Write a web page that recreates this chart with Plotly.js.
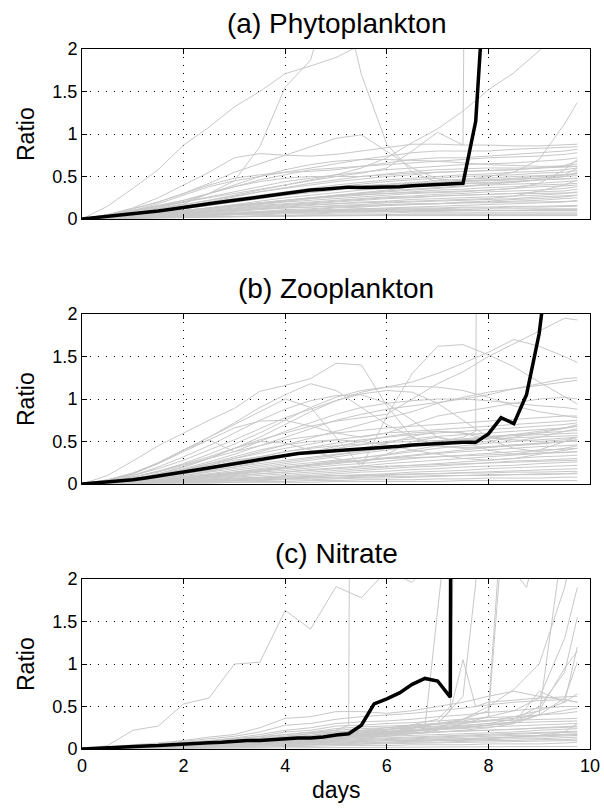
<!DOCTYPE html>
<html><head><meta charset="utf-8">
<script src="https://cdn.plot.ly/plotly-3.0.1.min.js"></script>
<style>html,body{margin:0;padding:0;background:#fff}</style>
</head><body><div id="chart" style="width:604px;height:809px"></div>
<script>
// ---------- data ----------
const X_FINE = [0,0.25,0.5,0.75,1,1.25,1.5,1.75,2,2.25,2.5,2.75,3,3.25,3.5,3.75,4,4.25,4.5,4.75,5,5.25,5.5,5.75,6,6.25,6.5,6.75,7,7.25,7.5,7.75,8,8.25,8.5,8.75,9,9.25];
const X_GRAY = [0,0.5,1,1.5,2,2.5,3,3.5,4,4.5,5,5.5,6,6.5,7,7.5,8,8.5,9,9.5,9.75];

const PHYTO_BLACK = [0,0.015,0.03,0.045,0.065,0.08,0.095,0.115,0.14,0.16,0.18,0.2,0.22,0.24,0.26,0.285,0.31,0.325,0.34,0.35,0.36,0.375,0.37,0.37,0.375,0.38,0.39,0.395,0.405,0.41,0.42,1.15,3.5];
const ZOO_BLACK = [0,0.01,0.02,0.035,0.05,0.07,0.09,0.115,0.14,0.165,0.19,0.215,0.24,0.265,0.29,0.315,0.34,0.36,0.37,0.38,0.39,0.4,0.405,0.415,0.43,0.445,0.46,0.47,0.48,0.485,0.49,0.49,0.59,0.78,0.71,1.05,1.77,3.0];
const NITRATE_BLACK = [0,0.005,0.01,0.02,0.03,0.035,0.04,0.05,0.065,0.07,0.075,0.08,0.095,0.1,0.1,0.11,0.125,0.13,0.13,0.14,0.165,0.18,0.28,0.53,0.59,0.66,0.76,0.83,0.8,0.61,60];

const PHYTO_GRAY = [
 [0,0.15,0.36,0.58,0.87,1.08,1.32,1.5,1.71,1.8,1.9,2.05,2.3,2.5,2.7,2.9,3.1,3.3,3.5,3.7,3.8],
 [0,0.04,0.08,0.12,0.18,0.3,0.45,0.85,1.55,1.87,2.95,1.7,0.88,0.55,0.43,0.42,0.42,0.44,0.46,0.47,0.48],
 [0,0.03,0.07,0.12,0.17,0.22,0.28,0.34,0.4,0.45,0.5,0.54,0.6,0.8,1.02,0.87,40,40,40,40,40],
 [0,0.05,0.1,0.15,0.2,0.25,0.3,0.35,0.4,0.46,0.52,0.6,0.72,0.9,1.06,1.27,1.52,1.72,1.98,2.3,2.45],
 [0,0.02,0.05,0.08,0.1,0.13,0.16,0.19,0.22,0.25,0.28,0.31,0.34,0.38,0.42,0.46,0.5,0.55,0.7,1.12,1.37],
 [0,0.05,0.12,0.2,0.3,0.42,0.55,0.65,0.75,0.85,0.95,0.99,0.8,0.6,0.47,0.45,0.46,0.48,0.5,0.52,0.53],
 [0,0.05,0.13,0.25,0.4,0.55,0.72,0.77,0.75,0.74,0.76,0.8,0.84,0.88,0.88,0.87,0.87,0.86,0.86,0.87,0.88],
 [0,0.04,0.1,0.18,0.28,0.38,0.45,0.5,0.55,0.6,0.65,0.7,0.74,0.78,0.8,0.8,0.8,0.82,0.83,0.84,0.85],
 [0,0.05,0.12,0.2,0.3,0.4,0.48,0.52,0.55,0.56,0.58,0.62,0.66,0.7,0.72,0.72,0.74,0.76,0.78,0.8,0.82],
 [0,0.04,0.09,0.15,0.22,0.3,0.38,0.46,0.52,0.58,0.6,0.62,0.64,0.66,0.68,0.7,0.72,0.73,0.74,0.76,0.78],
 [0,0.03,0.08,0.14,0.2,0.26,0.32,0.38,0.44,0.48,0.52,0.55,0.58,0.6,0.62,0.64,0.65,0.66,0.68,0.7,0.72],
 [0,0.03,0.07,0.12,0.17,0.22,0.27,0.32,0.36,0.4,0.44,0.47,0.5,0.52,0.55,0.56,0.57,0.58,0.6,0.62,0.65],
 [0,0.04,0.1,0.16,0.22,0.3,0.38,0.44,0.48,0.5,0.5,0.5,0.52,0.54,0.55,0.56,0.57,0.58,0.6,0.63,0.68],
 [0,0.03,0.06,0.1,0.15,0.2,0.24,0.28,0.32,0.36,0.4,0.43,0.46,0.48,0.5,0.52,0.53,0.55,0.56,0.58,0.6],
 [0,0.03,0.06,0.1,0.14,0.18,0.22,0.26,0.3,0.34,0.38,0.41,0.44,0.46,0.48,0.5,0.51,0.52,0.54,0.55,0.57],
 [0,0.02,0.05,0.09,0.13,0.17,0.21,0.25,0.29,0.33,0.36,0.39,0.41,0.43,0.45,0.47,0.48,0.5,0.51,0.52,0.54],
 [0,0.02,0.05,0.08,0.12,0.16,0.2,0.24,0.28,0.31,0.34,0.37,0.39,0.41,0.43,0.45,0.46,0.47,0.48,0.5,0.51],
 [0,0.02,0.04,0.07,0.1,0.13,0.17,0.21,0.25,0.28,0.31,0.34,0.36,0.38,0.4,0.42,0.43,0.44,0.46,0.47,0.48],
 [0,0.02,0.04,0.07,0.1,0.13,0.16,0.19,0.22,0.25,0.28,0.3,0.32,0.34,0.36,0.38,0.4,0.41,0.42,0.44,0.45],
 [0,0.02,0.04,0.06,0.09,0.12,0.15,0.18,0.21,0.24,0.26,0.28,0.3,0.32,0.34,0.35,0.37,0.38,0.4,0.41,0.42],
 [0,0.02,0.04,0.06,0.08,0.11,0.14,0.17,0.2,0.22,0.24,0.26,0.28,0.3,0.31,0.32,0.34,0.36,0.38,0.39,0.4],
 [0,0.01,0.03,0.05,0.08,0.1,0.13,0.16,0.18,0.2,0.22,0.24,0.26,0.27,0.29,0.3,0.32,0.33,0.34,0.36,0.38],
 [0,0.01,0.03,0.05,0.07,0.09,0.12,0.14,0.16,0.18,0.2,0.22,0.24,0.25,0.27,0.28,0.29,0.3,0.32,0.33,0.35],
 [0,0.01,0.03,0.04,0.06,0.08,0.1,0.12,0.14,0.16,0.18,0.2,0.21,0.23,0.24,0.25,0.26,0.27,0.28,0.3,0.32],
 [0,0.01,0.02,0.04,0.06,0.07,0.09,0.11,0.13,0.14,0.16,0.17,0.19,0.2,0.21,0.22,0.23,0.24,0.26,0.27,0.28],
 [0,0.01,0.02,0.03,0.05,0.06,0.08,0.09,0.11,0.12,0.14,0.15,0.16,0.17,0.18,0.19,0.2,0.21,0.22,0.24,0.25],
 [0,0.01,0.02,0.03,0.04,0.05,0.06,0.08,0.09,0.1,0.11,0.12,0.13,0.14,0.15,0.16,0.17,0.18,0.19,0.2,0.22],
 [0,0.01,0.02,0.03,0.04,0.05,0.06,0.07,0.08,0.09,0.1,0.11,0.11,0.12,0.12,0.13,0.13,0.14,0.14,0.15,0.15],
 [0,0.01,0.02,0.03,0.04,0.05,0.06,0.07,0.08,0.09,0.1,0.1,0.1,0.11,0.11,0.11,0.12,0.12,0.12,0.12,0.12],
 [0,0.01,0.02,0.03,0.04,0.05,0.06,0.07,0.08,0.08,0.09,0.09,0.09,0.1,0.1,0.1,0.1,0.1,0.1,0.1,0.1],
 [0,0.01,0.02,0.02,0.03,0.04,0.05,0.05,0.06,0.06,0.07,0.07,0.07,0.08,0.08,0.08,0.08,0.08,0.08,0.08,0.08],
 [0,0.01,0.01,0.02,0.02,0.03,0.03,0.04,0.04,0.05,0.05,0.05,0.05,0.06,0.06,0.06,0.06,0.06,0.06,0.06,0.06],
 [0,0.005,0.01,0.015,0.02,0.025,0.03,0.03,0.035,0.035,0.04,0.04,0.04,0.04,0.04,0.04,0.04,0.04,0.04,0.04,0.04],
 [0,0.02,0.04,0.07,0.1,0.13,0.16,0.19,0.22,0.25,0.27,0.29,0.3,0.31,0.32,0.33,0.34,0.36,0.42,0.58,0.7],
 [0,0.01,0.03,0.05,0.07,0.09,0.11,0.13,0.15,0.17,0.18,0.19,0.2,0.21,0.22,0.23,0.24,0.27,0.33,0.4,0.46],
 [0,0.01,0.02,0.03,0.05,0.06,0.07,0.08,0.09,0.1,0.11,0.12,0.12,0.13,0.13,0.14,0.14,0.15,0.15,0.16,0.16],
 [0,0.01,0.02,0.04,0.06,0.08,0.1,0.12,0.13,0.14,0.15,0.16,0.17,0.18,0.18,0.19,0.19,0.2,0.2,0.21,0.21],
 [0,0.01,0.03,0.05,0.07,0.1,0.12,0.15,0.17,0.19,0.21,0.23,0.25,0.26,0.27,0.28,0.29,0.3,0.3,0.31,0.31],
 [0,0.02,0.04,0.06,0.09,0.12,0.15,0.18,0.21,0.24,0.27,0.3,0.33,0.35,0.37,0.39,0.41,0.43,0.46,0.5,0.55],
 [0,0.02,0.05,0.08,0.12,0.16,0.2,0.24,0.28,0.32,0.35,0.38,0.4,0.42,0.43,0.44,0.45,0.46,0.48,0.52,0.6],
 [0,0.005,0.01,0.02,0.03,0.04,0.05,0.06,0.07,0.07,0.08,0.08,0.09,0.09,0.09,0.1,0.1,0.1,0.11,0.11,0.11],
 [0,0.005,0.01,0.01,0.02,0.02,0.03,0.03,0.03,0.04,0.04,0.04,0.05,0.05,0.05,0.05,0.05,0.05,0.05,0.05,0.05],
 [0,0.01,0.02,0.03,0.04,0.05,0.07,0.08,0.1,0.11,0.13,0.14,0.16,0.17,0.18,0.2,0.21,0.23,0.24,0.26,0.28],
 [0,0.02,0.05,0.09,0.14,0.2,0.26,0.32,0.37,0.42,0.46,0.5,0.53,0.56,0.58,0.59,0.6,0.6,0.6,0.61,0.62],
 [0,0.03,0.07,0.13,0.2,0.3,0.4,0.5,0.58,0.64,0.68,0.7,0.7,0.69,0.68,0.66,0.64,0.63,0.62,0.62,0.62]
];

const ZOO_GRAY = [
 [0,0.1,0.27,0.45,0.6,0.75,0.89,1.09,1.16,1.24,1.42,1.4,0.92,0.55,0.45,0.43,0.44,0.46,0.48,0.5,0.52],
 [0,0.05,0.12,0.25,0.4,0.55,0.7,0.85,1.0,0.9,0.55,0.2,0.8,1.3,1.62,1.64,1.52,1.38,1.2,1.02,0.94],
 [0,0.03,0.08,0.15,0.23,0.32,0.42,0.52,0.6,0.68,0.74,0.78,0.82,1.0,1.18,1.32,1.5,1.65,1.8,1.95,1.93],
 [0,0.04,0.1,0.18,0.28,0.4,0.52,0.65,0.78,0.88,0.98,1.08,1.14,1.2,1.3,1.42,1.55,1.7,1.62,1.5,1.43],
 [0,0.03,0.08,0.15,0.24,0.35,0.47,0.6,0.75,0.9,1.02,1.1,1.14,1.15,1.14,1.1,1.02,0.92,0.85,0.8,0.78],
 [0,0.02,0.06,0.12,0.2,0.3,0.42,0.55,0.7,0.85,0.98,1.06,1.1,1.08,0.95,0.75,0.55,0.5,0.55,0.62,0.65],
 [0,0.04,0.1,0.2,0.32,0.45,0.6,0.75,0.88,0.98,1.04,1.05,0.95,0.75,0.55,0.48,0.5,0.55,0.6,0.65,0.68],
 [0,0.02,0.06,0.11,0.18,0.26,0.35,0.45,0.55,0.65,0.75,0.82,0.88,0.92,0.96,1.0,1.05,1.12,1.18,1.24,1.25],
 [0,0.02,0.05,0.1,0.16,0.22,0.3,0.38,0.46,0.54,0.62,0.7,0.78,0.85,0.95,1.02,1.08,1.12,1.16,1.2,1.22],
 [0,0.04,0.12,0.24,0.38,0.52,0.66,0.74,0.75,0.68,0.6,0.55,0.6,0.7,0.8,0.85,0.9,0.95,1.0,1.02,1.0],
 [0,0.05,0.13,0.25,0.4,0.55,0.72,0.9,1.05,1.18,1.1,0.9,0.7,0.55,0.45,0.42,0.43,0.45,0.47,0.5,0.52],
 [0,0.04,0.12,0.24,0.4,0.52,0.38,0.5,0.62,0.72,0.82,0.9,0.95,0.98,1.0,1.0,0.98,0.95,0.92,0.9,0.88],
 [0,0.03,0.08,0.14,0.22,0.3,0.38,0.45,0.52,0.56,0.6,0.63,0.66,0.68,0.7,0.72,0.74,0.76,0.78,0.8,0.8],
 [0,0.02,0.06,0.11,0.17,0.24,0.3,0.36,0.42,0.47,0.52,0.56,0.6,0.62,0.64,0.66,0.68,0.7,0.72,0.74,0.75],
 [0,0.02,0.05,0.09,0.14,0.2,0.26,0.32,0.38,0.43,0.48,0.52,0.55,0.58,0.6,0.62,0.64,0.66,0.68,0.7,0.72],
 [0,0.02,0.05,0.08,0.12,0.17,0.22,0.27,0.32,0.37,0.42,0.46,0.5,0.53,0.56,0.58,0.6,0.62,0.64,0.66,0.68],
 [0,0.02,0.04,0.07,0.1,0.14,0.18,0.22,0.26,0.3,0.34,0.38,0.42,0.46,0.5,0.53,0.56,0.58,0.6,0.62,0.63],
 [0,0.01,0.03,0.06,0.09,0.12,0.16,0.2,0.24,0.28,0.32,0.36,0.4,0.44,0.48,0.52,0.55,0.57,0.58,0.59,0.6],
 [0,0.01,0.03,0.05,0.08,0.11,0.14,0.18,0.22,0.25,0.28,0.31,0.34,0.38,0.42,0.45,0.48,0.5,0.52,0.54,0.55],
 [0,0.01,0.03,0.05,0.07,0.1,0.13,0.16,0.19,0.22,0.25,0.28,0.31,0.34,0.37,0.4,0.43,0.46,0.48,0.5,0.5],
 [0,0.01,0.02,0.04,0.06,0.09,0.12,0.15,0.18,0.21,0.24,0.27,0.3,0.33,0.36,0.38,0.4,0.42,0.44,0.45,0.46],
 [0,0.01,0.02,0.04,0.06,0.08,0.11,0.14,0.16,0.19,0.22,0.24,0.27,0.3,0.32,0.34,0.36,0.38,0.4,0.41,0.42],
 [0,0.01,0.02,0.03,0.05,0.07,0.09,0.12,0.14,0.17,0.19,0.21,0.24,0.26,0.28,0.3,0.32,0.34,0.36,0.37,0.38],
 [0,0.01,0.02,0.03,0.05,0.06,0.08,0.1,0.12,0.14,0.16,0.18,0.2,0.22,0.24,0.26,0.28,0.3,0.32,0.33,0.34],
 [0,0.01,0.02,0.03,0.04,0.05,0.07,0.08,0.1,0.12,0.14,0.16,0.18,0.2,0.21,0.23,0.25,0.27,0.28,0.29,0.3],
 [0,0.01,0.02,0.03,0.04,0.05,0.06,0.07,0.09,0.1,0.12,0.14,0.15,0.17,0.18,0.2,0.21,0.22,0.24,0.25,0.26],
 [0,0.01,0.01,0.02,0.03,0.04,0.05,0.06,0.07,0.08,0.1,0.11,0.12,0.14,0.15,0.16,0.18,0.19,0.2,0.21,0.22],
 [0,0.01,0.01,0.02,0.03,0.03,0.04,0.05,0.06,0.07,0.08,0.09,0.1,0.11,0.12,0.13,0.14,0.15,0.16,0.17,0.18],
 [0,0.005,0.01,0.015,0.02,0.03,0.03,0.04,0.05,0.05,0.06,0.07,0.07,0.08,0.09,0.1,0.1,0.11,0.12,0.12,0.13],
 [0,0.005,0.01,0.01,0.02,0.02,0.02,0.03,0.03,0.04,0.04,0.05,0.05,0.05,0.06,0.06,0.07,0.07,0.07,0.08,0.08],
 [0,0.005,0.005,0.01,0.01,0.01,0.02,0.02,0.02,0.02,0.03,0.03,0.03,0.03,0.03,0.04,0.04,0.04,0.04,0.04,0.04],
 [0,0.02,0.06,0.12,0.2,0.3,0.42,0.5,0.48,0.4,0.3,0.25,0.35,0.5,0.55,0.5,0.4,0.35,0.4,0.5,0.55],
 [0,0.02,0.05,0.1,0.16,0.22,0.28,0.32,0.34,0.35,0.38,0.42,0.48,0.56,0.62,0.6,0.52,0.42,0.38,0.42,0.45],
 [0,0.01,0.02,0.03,0.04,0.05,0.06,0.07,0.08,0.09,0.1,0.1,0.11,0.12,0.12,0.13,0.13,0.14,0.14,0.15,0.15],
 [0,0.01,0.02,0.04,0.06,0.08,0.1,0.12,0.14,0.16,0.18,0.2,0.21,0.22,0.23,0.24,0.25,0.26,0.27,0.28,0.28],
 [0,0.01,0.03,0.05,0.08,0.11,0.14,0.17,0.2,0.23,0.26,0.28,0.3,0.31,0.32,0.33,0.34,0.35,0.36,0.37,0.38],
 [0,0.02,0.05,0.09,0.14,0.2,0.26,0.32,0.38,0.42,0.45,0.47,0.49,0.5,0.51,0.52,0.53,0.54,0.55,0.56,0.57],
 [0,0.005,0.01,0.015,0.02,0.03,0.04,0.05,0.06,0.07,0.07,0.08,0.09,0.09,0.1,0.1,0.11,0.11,0.11,0.12,0.12],
 [0,0.01,0.03,0.06,0.1,0.15,0.2,0.26,0.32,0.38,0.44,0.5,0.56,0.6,0.62,0.6,0.56,0.52,0.5,0.52,0.55],
 [0,0.02,0.05,0.1,0.16,0.24,0.32,0.4,0.46,0.5,0.52,0.5,0.46,0.4,0.35,0.3,0.28,0.3,0.35,0.4,0.42],
 [0,0.01,0.02,0.04,0.06,0.09,0.12,0.15,0.19,0.23,0.27,0.31,0.35,0.4,0.45,0.5,0.55,0.58,0.62,0.66,0.7]
];
const ZOO_SPIKE_X = [0,1,2,3,4,5,6,7,7.5,7.75,8];
const ZOO_SPIKE_Y = [0,0.04,0.12,0.2,0.28,0.35,0.42,0.5,0.55,0.62,40];

const NITRATE_GRAY = [
 [0,0.04,0.22,0.27,0.53,0.6,1.0,1.02,1.63,1.41,1.91,1.78,2.1,1.96,2.3,2.5,2.6,2.8,2.9,3.0,3.0],
 [0,0.02,0.05,0.07,0.1,0.14,0.17,0.25,0.36,0.38,0.44,0.44,0.42,0.45,0.5,0.55,0.62,0.68,0.62,0.58,0.55],
 [0,0.02,0.04,0.06,0.09,0.12,0.15,0.2,0.28,0.3,0.35,0.38,0.4,0.42,0.45,0.48,0.52,0.55,0.57,0.58,0.55],
 [0,0.01,0.03,0.05,0.08,0.1,0.13,0.17,0.22,0.25,0.3,0.32,0.33,0.35,0.38,0.4,0.43,0.45,0.48,0.5,0.5],
 [0,0.01,0.03,0.05,0.07,0.09,0.12,0.15,0.2,0.22,0.27,0.28,0.3,0.31,0.33,0.35,0.37,0.38,0.4,0.42,0.44],
 [0,0.01,0.02,0.04,0.06,0.08,0.1,0.13,0.17,0.2,0.24,0.26,0.27,0.28,0.3,0.32,0.33,0.34,0.35,0.36,0.36],
 [0,0.01,0.02,0.04,0.05,0.07,0.09,0.11,0.14,0.16,0.2,0.22,0.23,0.25,0.26,0.28,0.3,0.31,0.32,0.33,0.33],
 [0,0.01,0.02,0.03,0.05,0.06,0.08,0.1,0.12,0.14,0.17,0.19,0.2,0.21,0.23,0.24,0.26,0.27,0.28,0.29,0.3],
 [0,0.01,0.02,0.03,0.04,0.05,0.07,0.08,0.1,0.12,0.14,0.16,0.17,0.18,0.2,0.21,0.22,0.23,0.25,0.26,0.27],
 [0,0.01,0.02,0.03,0.04,0.05,0.06,0.07,0.09,0.1,0.12,0.14,0.15,0.16,0.17,0.18,0.19,0.2,0.22,0.23,0.24],
 [0,0.005,0.01,0.02,0.03,0.04,0.05,0.06,0.07,0.08,0.1,0.11,0.12,0.13,0.14,0.15,0.16,0.17,0.18,0.19,0.2],
 [0,0.005,0.01,0.02,0.03,0.04,0.05,0.06,0.07,0.08,0.09,0.1,0.11,0.12,0.13,0.14,0.15,0.16,0.16,0.17,0.18],
 [0,0.005,0.01,0.02,0.03,0.03,0.04,0.05,0.06,0.07,0.08,0.09,0.1,0.1,0.11,0.12,0.13,0.14,0.14,0.15,0.16],
 [0,0.005,0.01,0.015,0.02,0.03,0.04,0.04,0.05,0.06,0.07,0.08,0.08,0.09,0.1,0.1,0.11,0.12,0.12,0.13,0.14],
 [0,0.005,0.01,0.015,0.02,0.02,0.03,0.04,0.04,0.05,0.06,0.06,0.07,0.08,0.08,0.09,0.1,0.1,0.11,0.11,0.12],
 [0,0.005,0.01,0.01,0.02,0.02,0.03,0.03,0.04,0.04,0.05,0.05,0.06,0.06,0.07,0.07,0.08,0.08,0.09,0.09,0.1],
 [0,0.005,0.005,0.01,0.01,0.02,0.02,0.02,0.03,0.03,0.04,0.04,0.04,0.05,0.05,0.05,0.06,0.06,0.06,0.07,0.08],
 [0,0.002,0.005,0.007,0.01,0.01,0.01,0.015,0.015,0.02,0.02,0.02,0.02,0.025,0.025,0.025,0.03,0.03,0.03,0.03,0.03],
 [0,0.01,0.02,0.04,0.06,0.08,0.1,0.12,0.15,0.18,0.2,0.22,0.25,0.28,0.3,0.33,0.38,0.45,0.6,1.3,1.9],
 [0,0.01,0.02,0.03,0.05,0.07,0.09,0.11,0.13,0.15,0.17,0.19,0.21,0.23,0.25,0.27,0.3,0.35,0.5,0.9,1.55],
 [0,0.01,0.02,0.03,0.04,0.06,0.08,0.1,0.12,0.14,0.16,0.18,0.2,0.22,0.24,0.26,0.28,0.3,0.68,0.55,1.2],
 [0,0.01,0.02,0.03,0.04,0.05,0.07,0.09,0.11,0.13,0.15,0.17,0.19,0.21,0.23,0.25,0.28,0.32,0.45,0.95,1.15],
 [0,0.01,0.015,0.02,0.03,0.04,0.05,0.06,0.08,0.1,0.12,0.14,0.16,0.18,0.2,0.22,0.25,0.3,0.4,0.6,1.02],
 [0,0.01,0.02,0.03,0.04,0.05,0.07,0.09,0.11,0.13,0.15,0.17,0.19,0.21,0.23,0.25,0.28,0.32,0.4,2.6,3.2],
 [0,0.01,0.02,0.03,0.05,0.07,0.09,0.11,0.13,0.15,0.17,0.2,0.23,0.26,0.3,0.35,0.5,0.7,1.0,1.9,2.6],
 [0,0.005,0.01,0.02,0.03,0.04,0.05,0.06,0.08,0.09,0.11,0.12,0.13,0.14,0.15,0.16,0.17,0.18,0.19,0.2,0.21],
 [0,0.005,0.01,0.02,0.03,0.05,0.06,0.08,0.1,0.12,0.14,0.16,0.18,0.19,0.2,0.21,0.22,0.23,0.24,0.25,0.26],
 [0,0.01,0.02,0.03,0.05,0.07,0.09,0.12,0.15,0.18,0.22,0.24,0.25,0.27,0.29,0.31,0.34,0.36,0.4,0.45,0.48],
 [0,0.005,0.01,0.015,0.02,0.03,0.04,0.05,0.06,0.07,0.08,0.09,0.1,0.11,0.12,0.12,0.13,0.14,0.15,0.16,0.17],
 [0,0.005,0.01,0.01,0.02,0.02,0.03,0.03,0.04,0.05,0.06,0.07,0.08,0.09,0.1,0.11,0.12,0.14,0.16,0.2,0.3],
 [0,0.01,0.02,0.03,0.04,0.06,0.08,0.1,0.13,0.16,0.19,0.21,0.23,0.25,0.27,0.3,0.33,0.38,0.45,0.55,0.65]
];
const NIT_SPIKE1_X = [0,1,2,3,4,5,5.25,5.5];
const NIT_SPIKE1_Y = [0,0.02,0.06,0.12,0.17,0.22,0.28,40];
const NIT_SPIKE2_X = [0,1,2,3,4,5,6,6.5,6.75,7.25];
const NIT_SPIKE2_Y = [0,0.02,0.05,0.09,0.12,0.15,0.18,0.2,0.25,3.0];
const NIT_SPIKE3_X = [0,1,2,3,4,5,6,7,7.25,7.5];
const NIT_SPIKE3_Y = [0,0.02,0.05,0.08,0.12,0.16,0.22,0.35,0.5,8];
const NIT_SPIKE4_X = [0,1,2,3,4,5,6,7,7.25,7.5,7.75,8,9,9.75];
const NIT_SPIKE4_Y = [0,0.02,0.04,0.07,0.1,0.14,0.2,0.3,0.45,1.05,0.5,0.55,0.6,0.62];
const NIT_SPIKE5_X = [0,1,2,3,4,5,6,7,7.5,7.75,8];
const NIT_SPIKE5_Y = [0,0.02,0.04,0.06,0.09,0.13,0.18,0.3,0.62,1.95,4.5];
const NIT_SPIKE6_X = [0,1,2,3,4,5,6,7,8,8.25,8.5];
const NIT_SPIKE6_Y = [0,0.01,0.03,0.05,0.08,0.12,0.17,0.25,0.45,2.6,4];
const NIT_SPIKE7_X = [0,1,2,3,4,5,6,7,8,8.25,8.5,8.75,9];
const NIT_SPIKE7_Y = [0,0.01,0.03,0.05,0.07,0.1,0.15,0.22,0.38,2.3,2.1,1.9,2.5];

const PANEL_TITLES = ['(a) Phytoplankton','(b) Zooplankton','(c) Nitrate'];
const X_TICKS = [0,2,4,6,8,10];
const Y_TICKS = [0,0.5,1,1.5,2];
const Y_TICK_TEXT = ['0','0.5','1','1.5','2'];

// ---------- traces ----------
const GRAY = '#c8c8c8';
const traces = [];
function gray(x, y, ax) {
  traces.push({x: x, y: y, xaxis: 'x' + ax, yaxis: 'y' + ax, type: 'scatter', mode: 'lines',
    line: {color: GRAY, width: 1}, hoverinfo: 'skip', showlegend: false});
}
function black(y, ax) {
  traces.push({x: X_FINE.slice(0, y.length), y: y, xaxis: 'x' + ax, yaxis: 'y' + ax, type: 'scatter', mode: 'lines',
    line: {color: '#000', width: 3.5}, hoverinfo: 'skip', showlegend: false});
}
PHYTO_GRAY.forEach(r => gray(X_GRAY, r, ''));
ZOO_GRAY.forEach(r => gray(X_GRAY, r, '2'));
gray(ZOO_SPIKE_X, ZOO_SPIKE_Y, '2');
NITRATE_GRAY.forEach(r => gray(X_GRAY, r, '3'));
gray(NIT_SPIKE1_X, NIT_SPIKE1_Y, '3');
gray(NIT_SPIKE2_X, NIT_SPIKE2_Y, '3');
gray(NIT_SPIKE3_X, NIT_SPIKE3_Y, '3');
gray(NIT_SPIKE4_X, NIT_SPIKE4_Y, '3');
gray(NIT_SPIKE5_X, NIT_SPIKE5_Y, '3');
gray(NIT_SPIKE6_X, NIT_SPIKE6_Y, '3');
gray(NIT_SPIKE7_X, NIT_SPIKE7_Y, '3');
black(PHYTO_BLACK, '');
black(ZOO_BLACK, '2');
black(NITRATE_BLACK, '3');

// ---------- layout ----------
const FONT = 'Liberation Sans, Arial, Helvetica, sans-serif';
function xax(anchor, labels) {
  return {anchor: anchor, domain: [0, 1], range: [0, 10], tickvals: X_TICKS, showticklabels: labels,
    ticks: 'inside', ticklen: 5, tickcolor: '#000', showline: true, linecolor: '#000', linewidth: 1,
    mirror: 'ticks', showgrid: true, gridcolor: '#000', griddash: '1px,7px', gridwidth: 1,
    zeroline: false, tickfont: {family: FONT, size: 18, color: '#000'}, fixedrange: true};
}
function yax(anchor, dom) {
  return {anchor: anchor, domain: dom, range: [0, 2], tickvals: Y_TICKS, ticktext: Y_TICK_TEXT,
    ticks: 'inside', ticklen: 5, tickcolor: '#000', showline: true, linecolor: '#000', linewidth: 1,
    mirror: 'ticks', showgrid: true, gridcolor: '#000', griddash: '1px,7px', gridwidth: 1,
    zeroline: false, tickfont: {family: FONT, size: 18, color: '#000'}, fixedrange: true};
}
const TOP = 49, BOT = 749, H = BOT - TOP;
const py = p => (BOT - p) / H;
const annotations = [];
const titleY = [23, 288, 553];
PANEL_TITLES.forEach((t, i) => annotations.push({text: t, xref: 'paper', yref: 'paper', x: 0.5, y: py(titleY[i]),
  xanchor: 'center', yanchor: 'middle', showarrow: false, font: {family: FONT, size: 28, color: '#000'}}));
const ratioY = [134, 399, 664];
ratioY.forEach(p => annotations.push({text: 'Ratio', xref: 'paper', yref: 'paper', x: (26 - 82) / 508, y: py(p),
  xanchor: 'center', yanchor: 'middle', textangle: -90, showarrow: false, font: {family: FONT, size: 23, color: '#000'}}));
annotations.push({text: 'days', xref: 'paper', yref: 'paper', x: 0.5, y: py(790), xanchor: 'center', yanchor: 'middle',
  showarrow: false, font: {family: FONT, size: 23, color: '#000'}});

const layout = {
  width: 604, height: 809, margin: {l: 82, r: 14, t: TOP, b: 809 - BOT},
  paper_bgcolor: '#fff', plot_bgcolor: '#fff', showlegend: false,
  xaxis: xax('y', false), yaxis: yax('x', [py(219), 1]),
  xaxis2: xax('y2', false), yaxis2: yax('x2', [py(484), py(314)]),
  xaxis3: xax('y3', true), yaxis3: yax('x3', [0, py(579)]),
  annotations: annotations
};
Plotly.newPlot('chart', traces, layout, {displayModeBar: false, staticPlot: true});
</script></body></html>
